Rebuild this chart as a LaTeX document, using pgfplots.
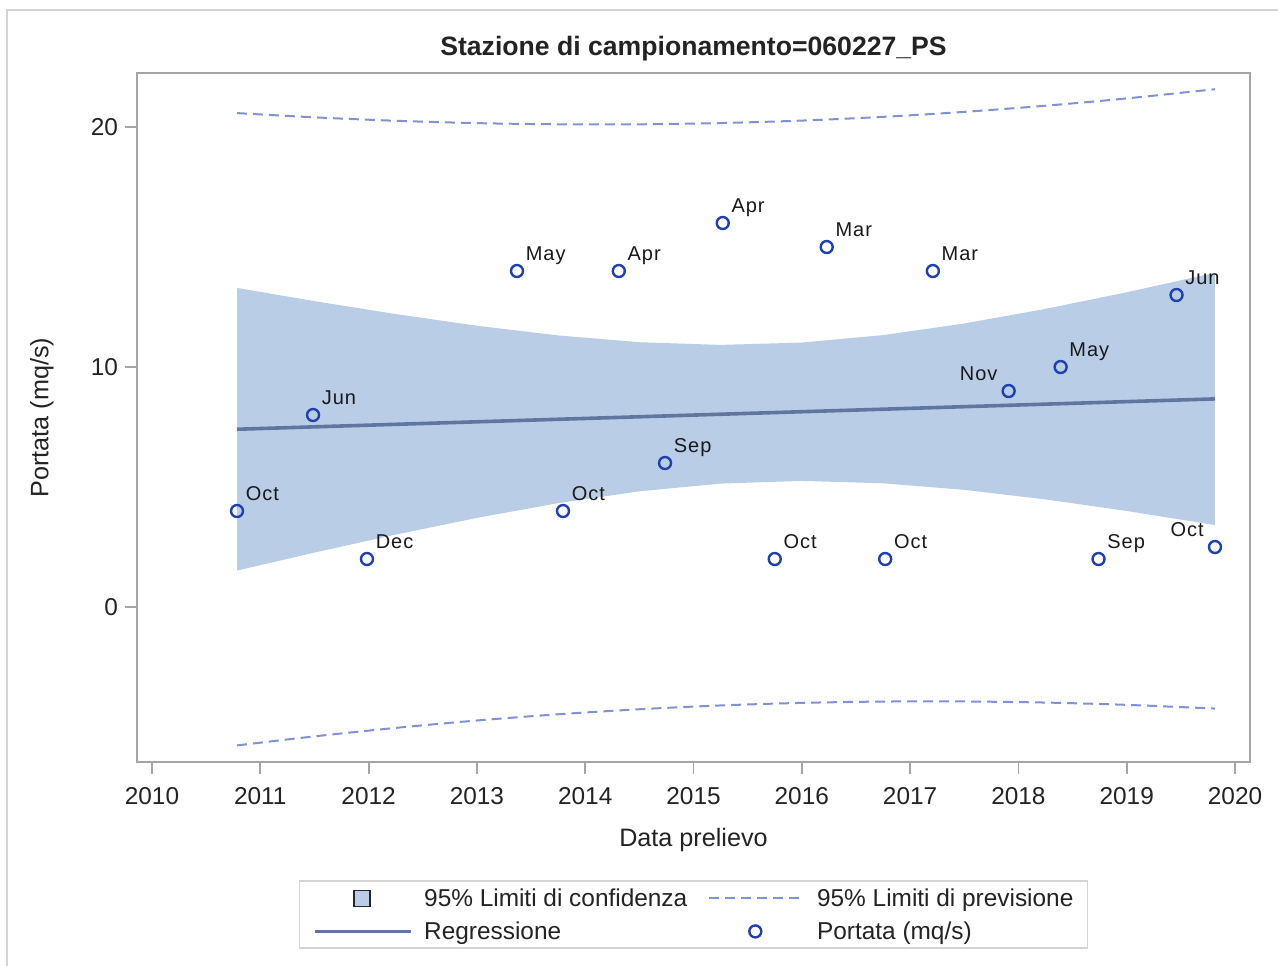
\documentclass[border=0pt]{standalone}
\usepackage{pgfplots}
\pgfplotsset{compat=1.18}
\usepackage{pgfplotstable}
\usepackage{fontspec}
\setmainfont{Liberation Sans}
\newfontfamily\lblfont[LetterSpace=5]{Liberation Sans}
\definecolor{bandc}{RGB}{185,205,230}
\definecolor{fitc}{RGB}{95,118,160}
\definecolor{predc}{RGB}{128,146,212}
\definecolor{markc}{RGB}{32,64,176}
\definecolor{framec}{RGB}{165,165,165}
\definecolor{outerc}{RGB}{212,212,212}
\definecolor{txtc}{RGB}{35,35,35}

\pgfplotsset{
  lgband/.style={legend image code/.code={\path (0pt,4pt) (48pt,4pt); \draw[fill=bandc, draw=black!85, line width=0.9pt] (19.5pt,0pt) rectangle (27.5pt,8pt);}},
  lgdash/.style={legend image code/.code={\draw[##1] (0pt,4pt) -- (47pt,4pt);}},
  lgline/.style={legend image code/.code={\draw[##1] (0pt,4pt) -- (48pt,4pt);}},
  lgmark/.style={legend image code/.code={\path (0pt,4pt) (48pt,4pt); \draw[##1] plot coordinates {(23pt,4pt)};}},
}

\pgfplotstableread{
x y lab
2010.785 4 Oct
2011.487 8 Jun
2011.985 2 Dec
2013.37 14 May
2013.795 4 Oct
2014.31 14 Apr
2014.737 6 Sep
2015.27 16 Apr
2015.75 2 Oct
2016.23 15 Mar
2016.77 2 Oct
2017.21 14 Mar
2018.39 10 May
2018.74 2 Sep
2019.46 13 Jun
}\ptsright

\pgfplotstableread{
x y lab
2017.91 9 Nov
2019.815 2.5 Oct
}\ptsleft

\pgfplotstableread{
x lo hi
2010.785 -5.766 20.580
2011.5 -5.389 20.403
2012.25 -5.036 20.260
2013 -4.728 20.162
2013.75 -4.469 20.113
2014.5 -4.259 20.113
2015.25 -4.101 20.165
2016 -3.994 20.268
2016.75 -3.939 20.424
2017.5 -3.936 20.631
2018.25 -3.981 20.887
2019 -4.076 21.192
2019.815 -4.231 21.575
}\predlim

\begin{document}
\begin{tikzpicture}
\useasboundingbox (0,0) rectangle (639pt,-482.5pt);
\draw[outerc, line width=1pt] (3.5pt,-490pt) -- (3.5pt,-5pt) -- (645pt,-5pt);
\begin{axis}[
  at={(68.5pt,-381pt)}, anchor=south west,
  scale only axis, width=556.5pt, height=344.5pt,
  xmin=2009.8615, xmax=2020.1385, ymin=-6.458, ymax=22.25,
  xtick={2010,2011,...,2020}, ytick={0,10,20},
  xticklabel style={/pgf/number format/1000 sep=, yshift=-3pt},
  /pgf/number format/assume math mode=true,
  tick label style={font=\fontsize{12.2}{14}\selectfont, text=txtc},
  axis line style={framec, line width=0.9pt},
  tick style={framec, line width=0.9pt},
  tick align=outside, major tick length=6pt,
  xtick pos=lower, ytick pos=left,
  title={Stazione di campionamento=060227\_PS},
  every axis title/.style={font=\bfseries\fontsize{13.3}{15}\selectfont, text=txtc, at={(axis description cs:0.5,1.0348)}, anchor=center},
  xlabel={Data prelievo},
  xlabel style={font=\fontsize{12.6}{15}\selectfont, text=txtc, at={(axis description cs:0.5,-0.1132)}, anchor=center},
  ylabel={Portata (mq/s)},
  ylabel style={font=\fontsize{12.6}{15}\selectfont, text=txtc, at={(axis description cs:-0.0854,0.5)}, anchor=center},
  legend columns=2,
  legend style={at={(0.5,-0.17126)}, anchor=north, draw=outerc, line width=0.8pt,
    font=\fontsize{12.2}{14}\selectfont, text=txtc,
    inner xsep=7pt, inner ysep=2.8pt, row sep=5.1pt,
    nodes={inner sep=0pt, text height=10pt, text depth=1.4pt, anchor=base west},
    /tikz/every odd column/.append style={column sep=5.5pt},
    /tikz/every even column/.append style={column sep=10.5pt}},
  legend cell align=left,
]
% confidence band
\addplot[fill=bandc, draw=none, lgband]
  coordinates {
  (2010.785,13.295) (2011.5,12.746) (2012.25,12.206) (2013,11.720) (2013.75,11.316) (2014.5,11.033) (2015.25,10.921) (2016,11.019) (2016.75,11.329) (2017.5,11.813) (2018.25,12.422) (2019,13.114) (2019.815,13.928)
  (2019.815,3.416) (2019,4.002) (2018.25,4.484) (2017.5,4.882) (2016.75,5.155) (2016,5.255) (2015.25,5.143) (2014.5,4.821) (2013.75,4.328) (2013,3.714) (2012.25,3.018) (2011.5,2.268) (2010.785,1.519)
  } -- cycle;
\addlegendentry{95\% Limiti di confidenza}
% prediction limits
\addplot[predc, line width=1pt, dash pattern=on 5pt off 3pt, smooth, lgdash]
  table[x=x, y=hi] {\predlim};
\addlegendentry{95\% Limiti di previsione}
\addplot[predc, line width=1pt, dash pattern=on 5pt off 3pt, smooth, forget plot]
  table[x=x, y=lo] {\predlim};
% regression
\addplot[fitc, line width=1.8pt, lgline]
  coordinates {(2010.785,7.407) (2019.815,8.672)};
\addlegendentry{Regressione}
% data points
\addplot[only marks, mark=o, mark size=3pt, mark options={draw=markc, line width=1.2pt},
  nodes near coords, point meta=explicit symbolic,
  every node near coord/.append style={anchor=base west, inner sep=0pt, xshift=3.8pt, yshift=5.4pt, font=\lblfont\fontsize{10}{12}\selectfont, text=black!90},
  lgmark]
  table[x=x, y=y, meta=lab] {\ptsright};
\addlegendentry{Portata (mq/s)}
\addplot[only marks, mark=o, mark size=3pt, mark options={draw=markc, line width=1.2pt}, forget plot,
  nodes near coords, point meta=explicit symbolic,
  every node near coord/.append style={anchor=base east, inner sep=0pt, xshift=-5pt, yshift=5.4pt, font=\lblfont\fontsize{10}{12}\selectfont, text=black!90}]
  table[x=x, y=y, meta=lab] {\ptsleft};
\end{axis}
\end{tikzpicture}
\end{document}
